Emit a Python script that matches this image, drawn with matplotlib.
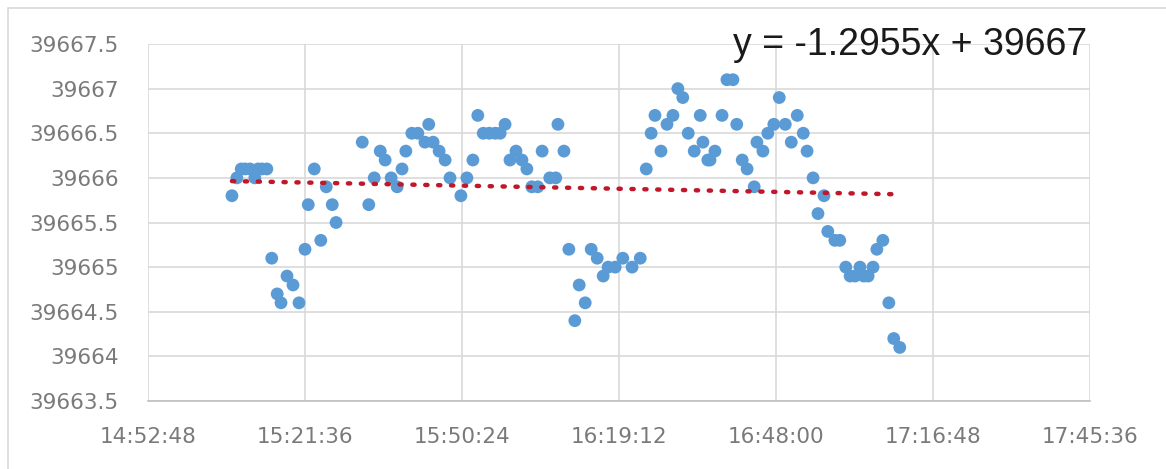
"""
Scatter of readings over time with a linear trendline (Excel-style chart).
"""

import numpy as np
import matplotlib.pyplot as plt
from matplotlib.ticker import FixedLocator, FuncFormatter
from matplotlib.patches import Rectangle

times = ["15:08:12", "15:09:06", "15:09:54", "15:10:36", "15:11:30", "15:12:24", "15:13:00", "15:13:42",
         "15:14:36", "15:15:30", "15:16:30", "15:17:12", "15:18:18", "15:19:24", "15:20:30", "15:21:36",
         "15:22:12", "15:23:18", "15:24:30", "15:25:30", "15:26:36", "15:27:18", "15:32:06", "15:33:18",
         "15:34:18", "15:35:24", "15:36:18", "15:37:24", "15:38:30", "15:39:24", "15:40:06", "15:41:12",
         "15:42:18", "15:43:36", "15:44:18", "15:45:06", "15:46:12", "15:47:18", "15:48:12", "15:50:12",
         "15:51:18", "15:52:24", "15:53:18", "15:54:18", "15:55:24", "15:56:30", "15:57:24", "15:58:18",
         "15:59:12", "16:00:18", "16:01:24", "16:02:18", "16:03:12", "16:04:18", "16:05:06", "16:06:30",
         "16:07:36", "16:08:00", "16:09:06", "16:10:00", "16:11:06", "16:11:54", "16:13:00", "16:14:06",
         "16:15:12", "16:16:18", "16:17:12", "16:18:30", "16:19:54", "16:21:36", "16:23:06", "16:24:12",
         "16:25:06", "16:25:48", "16:26:54", "16:28:00", "16:29:06", "16:30:00", "16:30:54", "16:31:54",
         "16:33:00", "16:34:06", "16:34:36", "16:35:30", "16:35:54", "16:36:48", "16:38:06", "16:39:00",
         "16:40:06", "16:40:48", "16:41:48", "16:42:42", "16:44:00", "16:44:30", "16:45:36", "16:46:30",
         "16:47:36", "16:48:36", "16:49:42", "16:50:48", "16:51:54", "16:53:00", "16:53:42", "16:54:48",
         "16:55:42", "16:56:48", "16:57:30", "16:58:48", "16:59:42", "17:00:48", "17:01:36", "17:02:30",
         "17:03:24", "17:04:06", "17:04:54", "17:05:48", "17:06:30", "17:07:36", "17:08:42", "17:09:36",
         "17:10:42"]

values = [39665.8, 39666.0, 39666.1, 39666.1, 39666.1, 39666.0, 39666.1, 39666.1,
          39666.1, 39665.1, 39664.7, 39664.6, 39664.9, 39664.8, 39664.6, 39665.2,
          39665.7, 39666.1, 39665.3, 39665.9, 39665.7, 39665.5, 39666.4, 39665.7,
          39666.0, 39666.3, 39666.2, 39666.0, 39665.9, 39666.1, 39666.3, 39666.5,
          39666.5, 39666.4, 39666.6, 39666.4, 39666.3, 39666.2, 39666.0, 39665.8,
          39666.0, 39666.2, 39666.7, 39666.5, 39666.5, 39666.5, 39666.5, 39666.6,
          39666.2, 39666.3, 39666.2, 39666.1, 39665.9, 39665.9, 39666.3, 39666.0,
          39666.0, 39666.6, 39666.3, 39665.2, 39664.4, 39664.8, 39664.6, 39665.2,
          39665.1, 39664.9, 39665.0, 39665.0, 39665.1, 39665.0, 39665.1, 39666.1,
          39666.5, 39666.7, 39666.3, 39666.6, 39666.7, 39667.0, 39666.9, 39666.5,
          39666.3, 39666.7, 39666.4, 39666.2, 39666.2, 39666.3, 39666.7, 39667.1,
          39667.1, 39666.6, 39666.2, 39666.1, 39665.9, 39666.4, 39666.3, 39666.5,
          39666.6, 39666.9, 39666.6, 39666.4, 39666.7, 39666.5, 39666.3, 39666.0,
          39665.6, 39665.8, 39665.4, 39665.3, 39665.3, 39665.0, 39664.9, 39664.9,
          39665.0, 39664.9, 39664.9, 39665.0, 39665.2, 39665.3, 39664.6, 39664.2,
          39664.1]

x_tick_labels = ["14:52:48", "15:21:36", "15:50:24", "16:19:12", "16:48:00", "17:16:48", "17:45:36"]
y_ticks = [39663.5, 39664, 39664.5, 39665, 39665.5, 39666, 39666.5, 39667, 39667.5]
equation = "y = -1.2955x + 39667"


def to_minutes(s):
    h, m, sec = [int(p) for p in s.split(":")]
    return h * 60 + m + sec / 60.0


x = np.array([to_minutes(t) for t in times])
y = np.array(values)
x_ticks = [to_minutes(t) for t in x_tick_labels]

# linear trendline through the points
slope, icpt = np.polyfit(x, y, 1)
trend_x = np.array([x.min(), x.max()])
trend_y = slope * trend_x + icpt

plt.rcParams["font.family"] = ["DejaVu Sans"]

fig = plt.figure(figsize=(11.66, 4.69), dpi=100)
ax = fig.add_axes([148 / 1166, 1 - 401 / 469, (1090 - 148) / 1166, (401 - 44) / 469])

# chart border
fig.patches.append(Rectangle((8 / 1166, -0.01), 1.1, 1 - 8 / 469 + 0.01, transform=fig.transFigure,
                             fill=False, edgecolor="#D9D9D9", linewidth=1.2))

ax.scatter(x, y, s=85, color="#5B9BD5", edgecolors="none", zorder=3)
ax.plot(trend_x, trend_y, color="#C0182A", linestyle=(0, (0.5, 2.4)), linewidth=3.2,
        dash_capstyle="round", zorder=4)

ax.set_xlim(x_ticks[0], x_ticks[-1])
ax.set_ylim(y_ticks[0], y_ticks[-1])
ax.xaxis.set_major_locator(FixedLocator(x_ticks))
ax.set_xticklabels(x_tick_labels)
ax.yaxis.set_major_locator(FixedLocator(y_ticks))
ax.yaxis.set_major_formatter(FuncFormatter(lambda v, p: "{:g}".format(v)))

ax.grid(True, color="#D9D9D9", linewidth=1.2, zorder=0)
ax.set_axisbelow(True)
for side in ["top", "right", "left"]:
    ax.spines[side].set_visible(False)
ax.spines["bottom"].set_color("#BFBFBF")
ax.spines["bottom"].set_linewidth(1.2)
ax.tick_params(length=0, labelsize=15.5, colors="#7A7A7A")
ax.tick_params(axis="x", pad=19)
ax.tick_params(axis="y", pad=21)

ax.text(0.997, 0.969, equation, transform=ax.transAxes, ha="right", va="baseline",
        fontsize=27, color="#1a1a1a", family="Liberation Sans")

fig.savefig("out.png", dpi=100)
